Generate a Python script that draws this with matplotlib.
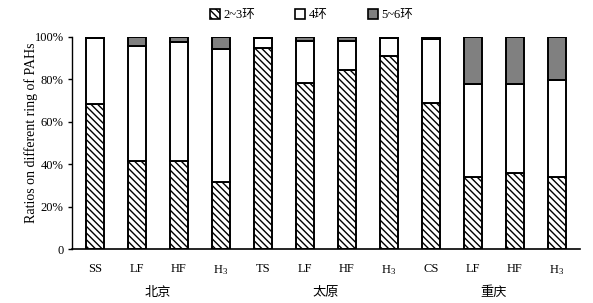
import matplotlib
matplotlib.use("Agg")
import matplotlib.pyplot as plt
from matplotlib.patches import Patch
from matplotlib.ticker import FuncFormatter

plt.rcParams['font.family'] = ['Liberation Serif', 'Noto Sans CJK SC']
plt.rcParams['hatch.linewidth'] = 1.0
plt.rcParams['mathtext.fontset'] = 'custom'
plt.rcParams['mathtext.rm'] = 'Liberation Serif'

categories = ['SS', 'LF', 'HF', r'$\mathregular{H_3}$', 'TS', 'LF', 'HF', r'$\mathregular{H_3}$',
              'CS', 'LF', 'HF', r'$\mathregular{H_3}$']
groups = ['北京', '太原', '重庆']
ring23 = [68.5, 41.5, 41.5, 31.5, 95.0, 78.5, 84.5, 91.0, 69.0, 34.0, 36.0, 34.0]
ring4 = [31.0, 54.3, 56.3, 62.7, 4.5, 19.5, 13.5, 8.5, 30.0, 44.0, 41.7, 45.5]
ring56 = [0.5, 4.2, 2.2, 5.8, 0.5, 2.0, 2.0, 0.5, 1.0, 22.0, 22.3, 20.5]
series_labels = ['2~3环', '4环', '5~6环']

fig = plt.figure(figsize=(5.93, 3.03), dpi=100)
ax = fig.add_axes([0.1214, 0.178, 0.8566, 0.7])

x = list(range(len(categories)))
w = 0.42
b1 = [v for v in ring23]
b2 = [a + b for a, b in zip(ring23, ring4)]
hatch = '\\' * 5
ax.bar(x, ring23, w, color='white', edgecolor='black', hatch=hatch, linewidth=1.4)
ax.bar(x, ring4, w, bottom=b1, color='white', edgecolor='black', linewidth=1.4)
ax.bar(x, ring56, w, bottom=b2, color='#808080', edgecolor='black', linewidth=1.4)

ax.set_xlim(-0.55, 11.55)
ax.set_ylim(0, 100)
ax.set_yticks([0, 20, 40, 60, 80, 100])
ax.yaxis.set_major_formatter(FuncFormatter(lambda v, p: '0' if v == 0 else f'{int(v)}%'))
ax.set_xticks(x)
ax.set_xticklabels(categories)
ax.tick_params(axis='x', length=0, pad=10, labelsize=9)
ax.tick_params(axis='y', direction='out', length=3, width=1, labelsize=9, pad=3)
for s in ['top', 'right']:
    ax.spines[s].set_visible(False)
ax.spines['left'].set_linewidth(1.0)
ax.spines['bottom'].set_linewidth(1.2)
ax.set_ylabel('Ratios on different ring of PAHs', fontsize=10)
ax.yaxis.set_label_coords(-0.067, 0.547)

for i, g in enumerate(groups):
    ax.text(1.5 + 4 * i, -0.205, g, transform=ax.get_xaxis_transform(),
            ha='center', va='center', fontsize=9.5)

handles = [Patch(facecolor='white', edgecolor='black', hatch=hatch, linewidth=1.2),
           Patch(facecolor='white', edgecolor='black', linewidth=1.2),
           Patch(facecolor='#808080', edgecolor='black', linewidth=1.2)]
fig.legend(handles, series_labels, loc='center', bbox_to_anchor=(0.525, 0.95), ncol=3,
           frameon=False, fontsize=9, handlelength=0.8, handleheight=0.8,
           handletextpad=0.3, columnspacing=3.2)

fig.savefig('out.png', dpi=100)
